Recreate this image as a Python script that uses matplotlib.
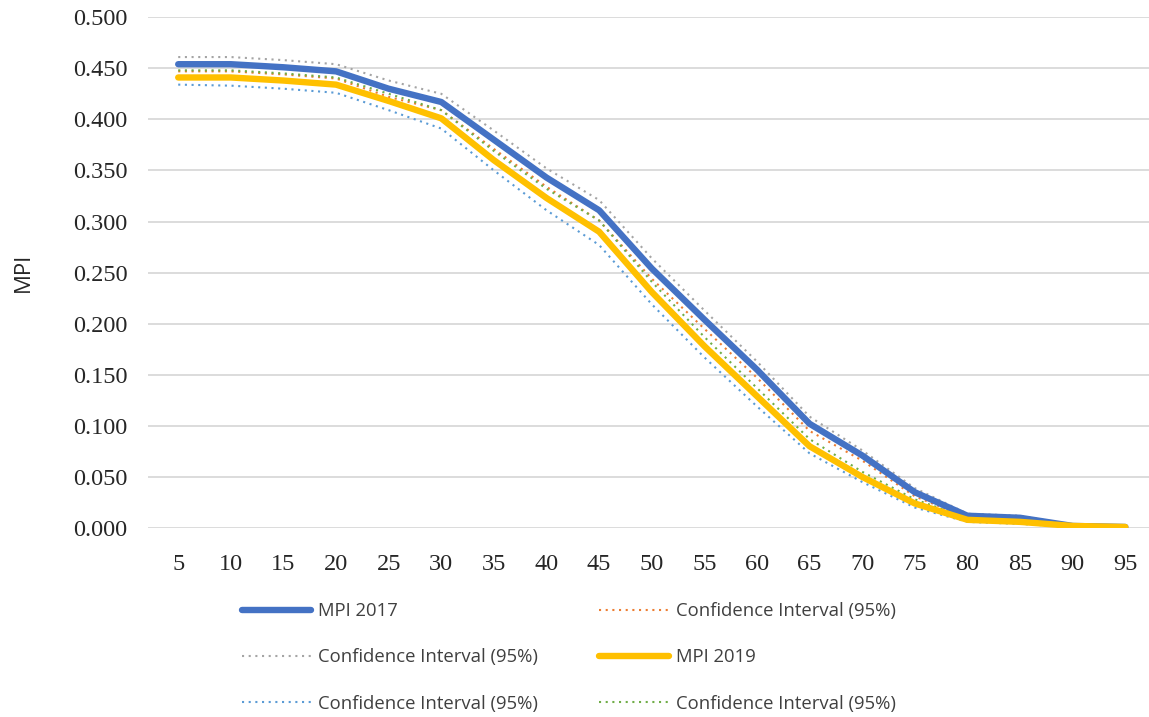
import matplotlib
matplotlib.use("Agg")
import matplotlib.pyplot as plt

ages = [5, 10, 15, 20, 25, 30, 35, 40, 45, 50, 55, 60, 65, 70, 75, 80, 85, 90, 95]
mpi_2017 = [0.454, 0.454, 0.451, 0.447, 0.430, 0.417, 0.380, 0.343, 0.311, 0.254, 0.204, 0.155, 0.102, 0.071, 0.035, 0.012, 0.010, 0.002, 0.001]
ci_2017_upper = [0.461, 0.461, 0.458, 0.454, 0.438, 0.425, 0.389, 0.352, 0.321, 0.264, 0.213, 0.163, 0.109, 0.076, 0.039, 0.014, 0.012, 0.003, 0.001]
ci_2017_lower = [0.447, 0.447, 0.444, 0.440, 0.422, 0.409, 0.371, 0.334, 0.301, 0.244, 0.195, 0.147, 0.095, 0.066, 0.031, 0.010, 0.008, 0.001, 0.000]
mpi_2019 = [0.441, 0.441, 0.438, 0.434, 0.418, 0.401, 0.360, 0.323, 0.290, 0.231, 0.178, 0.129, 0.080, 0.050, 0.024, 0.008, 0.006, 0.002, 0.001]
ci_2019_upper = [0.448, 0.448, 0.445, 0.441, 0.425, 0.409, 0.369, 0.332, 0.301, 0.241, 0.187, 0.137, 0.087, 0.055, 0.028, 0.010, 0.008, 0.003, 0.001]
ci_2019_lower = [0.434, 0.433, 0.430, 0.426, 0.409, 0.391, 0.350, 0.311, 0.277, 0.219, 0.167, 0.119, 0.073, 0.045, 0.020, 0.006, 0.004, 0.001, 0.000]
y_ticks = [0.0, 0.05, 0.1, 0.15, 0.2, 0.25, 0.3, 0.35, 0.4, 0.45, 0.5]

fig = plt.figure(figsize=(11.49, 7.17), dpi=100)
ax = fig.add_axes([0.129, 0.2636, 0.871, 0.7124])
x = list(range(len(ages)))
dot = (0, (1, 2.2))
h17, = ax.plot(x, mpi_2017, color="#4472C4", lw=4.6, solid_capstyle="round", label="MPI 2017", zorder=5)
h_or, = ax.plot(x, ci_2017_lower, color="#ED7D31", lw=1.5, ls=dot, label="Confidence Interval (95%)", zorder=3)
h_gr, = ax.plot(x, ci_2017_upper, color="#A5A5A5", lw=1.5, ls=dot, label="Confidence Interval (95%)", zorder=3)
h19, = ax.plot(x, mpi_2019, color="#FFC000", lw=4.6, solid_capstyle="round", label="MPI 2019", zorder=5)
h_bl, = ax.plot(x, ci_2019_lower, color="#5B9BD5", lw=1.5, ls=dot, label="Confidence Interval (95%)", zorder=3)
h_gn, = ax.plot(x, ci_2019_upper, color="#70AD47", lw=1.5, ls=dot, label="Confidence Interval (95%)", zorder=3)

ax.set_xlim(-0.57, 18.45)
ax.set_ylim(0, 0.5)
ax.set_yticks(y_ticks)
ax.set_yticklabels([f"{v:.3f}" for v in y_ticks], family="Liberation Serif", fontsize=17.5, color="#262626")
ax.set_xticks(x)
ax.set_xticklabels([str(a) for a in ages], family="Liberation Serif", fontsize=17.5, color="#262626")
ax.tick_params(length=0)
ax.tick_params(axis="y", pad=15)
ax.tick_params(axis="x", pad=19)
ax.grid(axis="y", color="#D9D9D9", lw=1.3)
ax.set_axisbelow(True)
for s in ax.spines.values():
    s.set_visible(False)
ax.set_ylabel("MPI", family="Open Sans", fontsize=16, labelpad=28, color="#262626")

handles = [h17, h_gr, h_bl, h_or, h19, h_gn]
leg = fig.legend(handles, [h.get_label() for h in handles], ncol=2, loc="upper left",
                 bbox_to_anchor=(0.196, 0.183), frameon=False,
                 prop={"family": "Open Sans", "size": 13.3}, handlelength=3.75,
                 handletextpad=0.4, columnspacing=3.3, labelspacing=1.52)
for t in leg.get_texts():
    t.set_color("#404040")
fig.savefig("out.png", dpi=100)
